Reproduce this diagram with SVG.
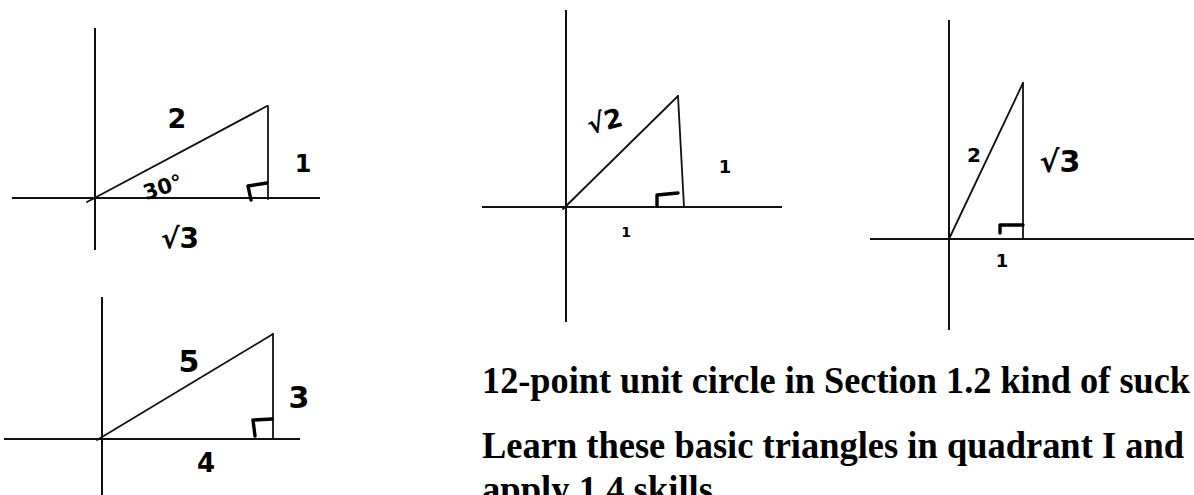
<svg xmlns="http://www.w3.org/2000/svg" width="1194" height="495" viewBox="0 0 1194 495">
<style>
.axis{stroke:#111;stroke-width:2;fill:none;stroke-linecap:butt}
.side{stroke:#111;stroke-width:1.8;fill:none;stroke-linecap:round;stroke-linejoin:round}
.mark{stroke:#000;stroke-width:3.4;fill:none;stroke-linecap:round;stroke-linejoin:round}
.hand{font-family:"DejaVu Sans","Liberation Sans",sans-serif;font-weight:bold;fill:#000;text-anchor:middle}
.note{font-family:"Liberation Serif","Times New Roman",serif;font-weight:bold;font-size:38px;fill:#000}
</style>
<rect width="1194" height="495" fill="#fff"/>

<g id="tri-30-60-90">
  <line class="axis" x1="95" y1="28" x2="95" y2="250"/>
  <line class="axis" x1="12" y1="198" x2="320" y2="198"/>
  <line class="side" x1="87" y1="202" x2="267" y2="106"/>
  <line class="side" x1="268" y1="106" x2="268" y2="199"/>
  <polyline class="mark" points="251,200 248,186 267,183"/>
  <text class="hand" x="177" y="128" font-size="27">2</text>
  <text class="hand" x="0" y="0" font-size="21" transform="translate(165,194) rotate(-18)">30°</text>
  <text class="hand" x="303" y="172" font-size="24">1</text>
  <text class="hand" x="180" y="248" font-size="28">√3</text>
</g>

<g id="tri-3-4-5">
  <line class="axis" x1="102" y1="297" x2="102" y2="495"/>
  <line class="axis" x1="4" y1="439" x2="300" y2="439"/>
  <line class="side" x1="97" y1="440" x2="273" y2="334"/>
  <line class="side" x1="273" y1="334" x2="273" y2="439"/>
  <polyline class="mark" points="255,436 253,420 272,419"/>
  <text class="hand" x="189" y="372" font-size="30">5</text>
  <text class="hand" x="299" y="408" font-size="30">3</text>
  <text class="hand" x="206" y="472" font-size="26">4</text>
</g>

<g id="tri-45-45-90">
  <line class="axis" x1="566" y1="10" x2="566" y2="322"/>
  <line class="axis" x1="482" y1="207" x2="782" y2="207"/>
  <line class="side" x1="563" y1="209" x2="678" y2="96"/>
  <line class="side" x1="678" y1="96" x2="684" y2="207"/>
  <polyline class="mark" points="657,206 657,195 678,193"/>
  <text class="hand" x="0" y="0" font-size="26" transform="translate(607,130) rotate(-15)">√2</text>
  <text class="hand" x="725" y="173" font-size="18">1</text>
  <text class="hand" x="626" y="237" font-size="14">1</text>
</g>

<g id="tri-60-30-90">
  <line class="axis" x1="949" y1="20" x2="949" y2="330"/>
  <line class="axis" x1="870" y1="239" x2="1194" y2="239"/>
  <line class="side" x1="949" y1="239" x2="1023" y2="83"/>
  <line class="side" x1="1023" y1="83" x2="1023" y2="239"/>
  <polyline class="mark" points="1000,233 1000,225 1023,225"/>
  <text class="hand" x="974" y="162" font-size="20">2</text>
  <text class="hand" x="1060" y="172" font-size="30">√3</text>
  <text class="hand" x="1002" y="267" font-size="18">1</text>
</g>

<g id="notes">
  <text class="note" x="482" y="393" textLength="708" lengthAdjust="spacingAndGlyphs">12-point unit circle in Section 1.2 kind of suck</text>
  <text class="note" x="482" y="458" textLength="702" lengthAdjust="spacingAndGlyphs">Learn these basic triangles in quadrant I and</text>
  <text class="note" x="482" y="502" textLength="231" lengthAdjust="spacingAndGlyphs">apply 1.4 skills</text>
</g>
</svg>
